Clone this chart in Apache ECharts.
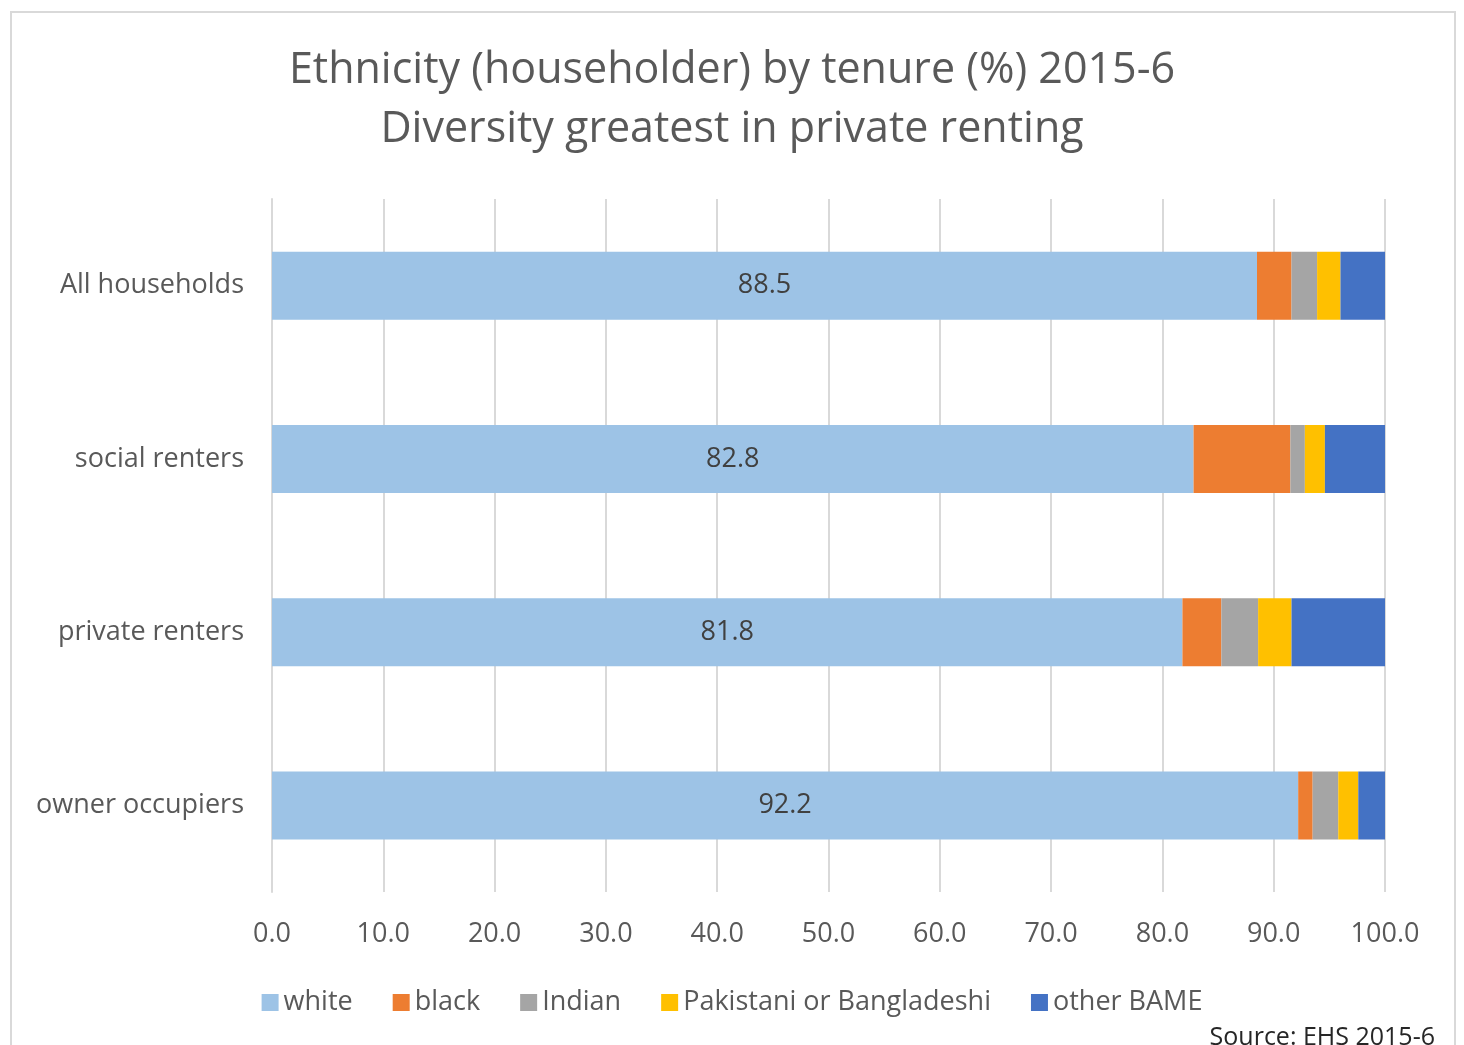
<!DOCTYPE html>
<html>
<head>
<meta charset="utf-8">
<script src="https://cdn.jsdelivr.net/npm/echarts@6/dist/echarts.min.js"></script>
<style>
html,body{margin:0;padding:0;background:#fff;}
#frame{position:absolute;left:10px;top:11px;width:1446px;height:1060px;border:2px solid #d9d9d9;box-sizing:border-box;}
#chart{position:absolute;left:0;top:0;width:1464px;height:1045px;}
</style>
</head>
<body>
<div id="frame"></div>
<div id="chart"></div>
<script>
const categories = ["All households", "social renters", "private renters", "owner occupiers"];
const seriesNames = ["white", "black", "Indian", "Pakistani or Bangladeshi", "other BAME"];
const white = [88.5, 82.8, 81.8, 92.2];
const black = [3.1, 8.7, 3.5, 1.3];
const indian = [2.3, 1.3, 3.3, 2.3];
const pakistani = [2.1, 1.8, 3.0, 1.8];
const otherBame = [4.0, 5.4, 8.4, 2.4];
const colors = ["#9dc3e6", "#ed7d31", "#a5a5a5", "#ffc000", "#4472c4"];
const titleLines = ["Ethnicity (householder) by tenure (%) 2015-6", "Diversity greatest in private renting"];
const sourceText = "Source: EHS 2015-6";

const font = "'Open Sans', 'Noto Sans', sans-serif";
const values = [white, black, indian, pakistani, otherBame];
const chart = echarts.init(document.getElementById('chart'));
chart.setOption({
  animation: false,
  color: colors,
  title: [{
    text: titleLines.join("\n"),
    left: 'center', top: 36,
    textStyle: {fontFamily: font, fontSize: 43, fontWeight: 'normal', color: '#595959', lineHeight: 59}
  }, {
    text: sourceText, right: 24, top: 1020,
    textStyle: {fontFamily: font, fontSize: 25, fontWeight: 'normal', color: '#262626'}
  }],
  legend: {
    data: seriesNames, left: 'center', top: 984,
    itemWidth: 17, itemHeight: 17, itemGap: 40, icon: 'rect',
    textStyle: {fontFamily: font, fontSize: 27, color: '#595959'}
  },
  grid: {left: 272, right: 79, top: 199, bottom: 153, containLabel: false},
  xAxis: {
    type: 'value', min: 0, max: 100, interval: 10,
    axisLine: {show: false}, axisTick: {show: false},
    splitLine: {lineStyle: {color: '#d9d9d9', width: 2}},
    axisLabel: {fontFamily: font, fontSize: 27, color: '#595959', margin: 29,
      formatter: v => v.toFixed(1)}
  },
  yAxis: {
    type: 'category', data: categories, inverse: true,
    axisLine: {show: true, lineStyle: {color: '#d9d9d9', width: 2}},
    axisTick: {show: false},
    axisLabel: {fontFamily: font, fontSize: 27, color: '#595959', margin: 28}
  },
  series: seriesNames.map((n, i) => ({
    name: n, type: 'bar', stack: 'total', data: values[i], barWidth: 68,
    label: i === 0 ? {show: true, position: 'inside', fontFamily: font, fontSize: 27, color: '#404040',
      formatter: p => p.value.toFixed(1)} : {show: false}
  }))
});
</script>
</body>
</html>
